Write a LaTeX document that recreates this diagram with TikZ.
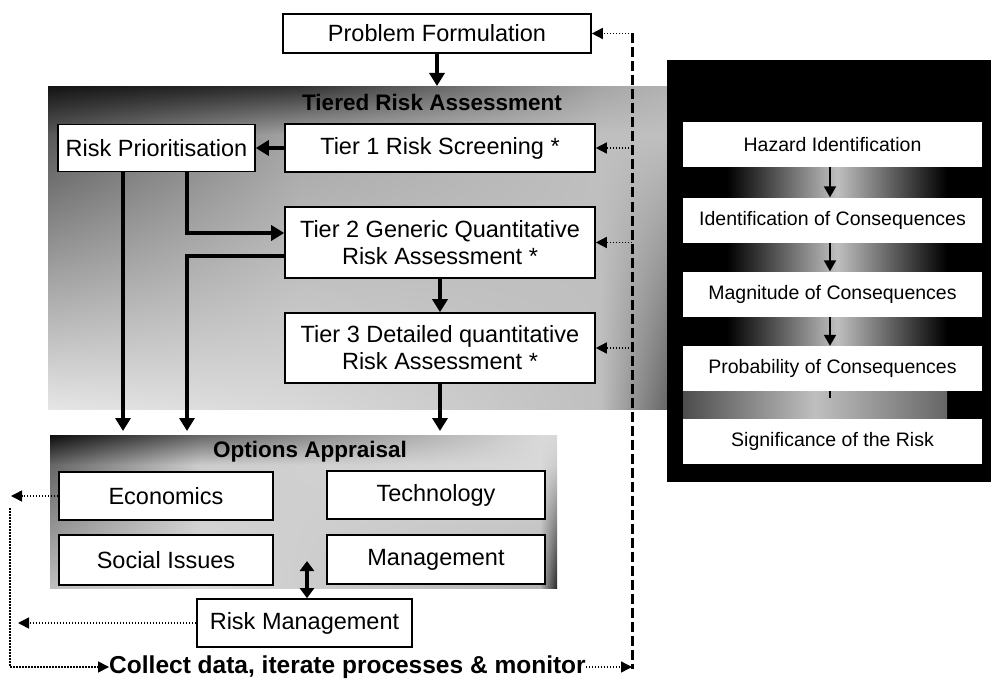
\documentclass[tikz,border=0pt]{standalone}
\usepackage{fontspec}
\setmainfont{Liberation Sans}
\usetikzlibrary{arrows.meta,shadings}
\newcommand{\bilcell}[8]{\shade[upper left=black!#5, upper right=black!#6, lower left=black!#7, lower right=black!#8] (#1,#2) rectangle (#3,#4);}
\begin{document}
\begin{tikzpicture}[x=1pt,y=-1pt,
  box/.style={draw=black, line width=1.6pt, fill=white, inner sep=1pt, align=center,
    font=\fontsize{23.5}{27}\selectfont},
  rbox/.style={fill=white, inner sep=1pt, minimum width=299pt, minimum height=45pt,
    font=\fontsize{19.5}{23}\selectfont},
  ttl/.style={inner sep=0pt, font=\bfseries\fontsize{22.5}{26}\selectfont},
  bigarrow/.style={line width=4pt, -{Triangle[length=13pt,width=15pt]}},
  dblarrow/.style={line width=4pt, {Triangle[length=10pt,width=14pt]}-{Triangle[length=10pt,width=14pt]}},
  thinarrow/.style={line width=2pt, -{Triangle[length=11pt,width=12pt]}},
  dotarrow/.style={line width=1.5pt, dash pattern=on 1.5pt off 1.5pt, -{Triangle[length=11pt,width=11pt]}},
  dotline/.style={line width=1.5pt, dash pattern=on 1.5pt off 1.5pt},
  dashline/.style={line width=3pt, dash pattern=on 10pt off 4pt}
]
\useasboundingbox (0,0) rectangle (991,682);

% tiered background (piecewise bilinear)
\bilcell{48}{87}{300}{135}{92}{80}{65}{35}
\bilcell{300}{87}{600}{135}{80}{35}{35}{25}
\bilcell{600}{87}{667}{135}{35}{30}{25}{25}
\bilcell{48}{135}{300}{409}{65}{35}{10}{15}
\bilcell{300}{135}{600}{409}{35}{25}{15}{25}
\bilcell{600}{135}{667}{409}{25}{25}{25}{60}
% options background
\bilcell{50}{435}{200}{465}{95}{60}{60}{20}
\bilcell{200}{435}{540}{465}{60}{15}{20}{15}
\bilcell{540}{435}{557}{465}{15}{15}{15}{20}
\bilcell{50}{465}{200}{588}{60}{20}{25}{15}
\bilcell{200}{465}{540}{588}{20}{15}{15}{30}
\bilcell{540}{465}{557}{588}{15}{20}{30}{85}

% right panel
\fill[black] (667,60) rectangle (991,482);
\foreach \ya/\yb in {167/197, 243/272, 315/347} {
  \shade[left color=black, right color=black, middle color=black!25] (727,\ya) rectangle (947,\yb);
}
\shade[left color=black!70, right color=black!60, middle color=black!25] (683,390) rectangle (947,419);

% titles
\node[ttl] (ttitle) at (432,102) {Tiered Risk Assessment};
\node[ttl] (otitle) at (310,452) {Options Appraisal};

% main boxes
\node[box, minimum width=308pt, minimum height=39pt] (pf) at (437,33.5) {Problem Formulation};
\node[box, minimum width=197pt, minimum height=47pt] (rp) at (156.5,148) {Risk Prioritisation};
\node[box, minimum width=310pt, minimum height=48pt] (t1) at (440,148) {Tier 1 Risk Screening *};
\node[box, minimum width=310pt, minimum height=71pt] (t2) at (440,242.5) {Tier 2 Generic Quantitative\\Risk Assessment *};
\node[box, minimum width=310pt, minimum height=70pt] (t3) at (440,348) {Tier 3 Detailed quantitative\\Risk Assessment *};
\node[box, minimum width=214pt, minimum height=48pt] (eco) at (166,496) {Economics};
\node[box, minimum width=218pt, minimum height=48pt] (tech) at (436,495) {Technology};
\node[box, minimum width=214pt, minimum height=50pt] (soc) at (166,560) {Social Issues};
\node[box, minimum width=218pt, minimum height=49pt] (mgmt) at (436,559.5) {Management};
\node[box, minimum width=215pt, minimum height=48pt] (rm) at (304.5,623) {Risk Management};
\node[inner sep=0pt, font=\bfseries\fontsize{24.5}{28}\selectfont] (collect) at (347.5,667)
  {Collect data, iterate processes \& monitor};

% right panel boxes
\node[rbox] (hz) at (832.5,144.5) {Hazard Identification};
\node[rbox] (ic) at (832.5,220) {Identification of Consequences};
\node[rbox] (mc) at (832.5,294) {Magnitude of Consequences};
\node[rbox] (pc) at (832.5,368.5) {Probability of Consequences};
\node[rbox] (sr) at (832.5,441) {Significance of the Risk};

% right panel arrows
\coordinate (rx) at (830,0);
\draw[thinarrow] (rx |- hz.south) -- (rx |- ic.north);
\draw[thinarrow] (rx |- ic.south) -- (rx |- mc.north);
\draw[thinarrow] (rx |- mc.south) -- (rx |- pc.north);
\coordinate (stub) at (830,398);
\draw[line width=2pt] (rx |- pc.south) -- (stub);

% solid arrows
\coordinate (a0) at (437,86);
\draw[bigarrow] (pf.south) -- (a0);
\draw[bigarrow] (t1.west) -- (rp.east);
\coordinate (a1) at (123,431);
\draw[bigarrow] (a1 |- rp.south) -- (a1);
\coordinate (j) at (187,233);
\draw[bigarrow] (j |- rp.south) -- (j) -- (j -| t2.west);
\coordinate (k) at (187,256);
\coordinate (a2) at (187,431);
\draw[bigarrow] (k -| t2.west) -- (k) -- (a2);
\draw[bigarrow] (t2.south) -- (t3.north);
\coordinate (a3) at (440,431);
\draw[bigarrow] (t3.south) -- (a3);
\coordinate (dm) at (307,561);
\draw[dblarrow] (dm) -- (dm |- rm.north);

% feedback loop
\coordinate (dtop) at (632,33.5);
\coordinate (dbot) at (632,669);
\draw[dashline] (dtop) -- (dbot);
\draw[dotarrow] (dtop) -- (pf.east);
\draw[dotarrow] (t1.east -| dtop) -- (t1.east);
\draw[dotarrow] (t2.east -| dtop) -- (t2.east);
\draw[dotarrow] (t3.east -| dtop) -- (t3.east);
\draw[dotarrow] (collect.east) -- (collect.east -| dbot);

\coordinate (lx) at (11,0);
\coordinate (ltop) at (10,508);
\coordinate (lbot) at (10,667);
\draw[dotarrow] (eco.west) -- (eco.west -| lx);
\coordinate (rmend) at (18,623);
\draw[dotarrow] (rm.west) -- (rmend);
\draw[dotline] (ltop) -- (lbot);
\draw[dotarrow] (lbot) -- (collect.west);
\end{tikzpicture}
\end{document}
